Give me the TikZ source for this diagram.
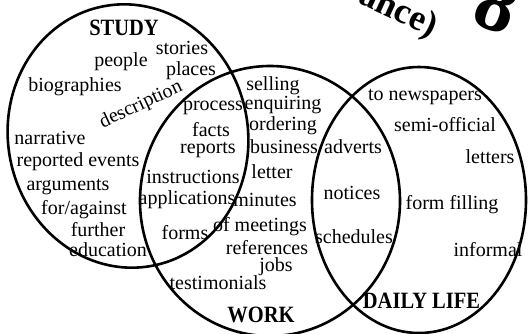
\documentclass[tikz,border=0pt]{standalone}
\usepackage{fontspec}
\setmainfont{Liberation Serif}
\begin{document}
\begin{tikzpicture}[x=1pt, y=1pt, every node/.style={font=\fontsize{20}{22}\selectfont, inner sep=0pt},
  ring/.style={line width=2.6pt}, head/.style={font=\fontsize{20.5}{22}\selectfont\bfseries, yscale=1.14}]
  \useasboundingbox (0,0) rectangle (528,-333);
  \clip (0,0) rectangle (528,-333);
  % the three sets
  \draw[ring, rotate around={10:(128,-136)}] (128,-136) ellipse [x radius=120pt, y radius=132pt];
  \draw[ring] (270,-201) ellipse [x radius=130pt, y radius=135pt];
  \draw[ring] (419,-200) ellipse [x radius=107pt, y radius=133pt];
  % cut-off title at the top
  \node[font=\fontsize{36}{36}\selectfont\bfseries, rotate=-25] (title) at (398,-12) {ance)};
  \node[font=\fontsize{80}{80}\selectfont\bfseries, rotate=-20] (num) at (497,-5) {8};
  % study
  \node[head] (study) at (124,-27.5) {STUDY};
  \node (stories) at (182,-48) {stories};
  \node (people) at (121,-62) {people};
  \node (places) at (191,-71) {places};
  \node (bio) at (75,-87) {biographies};
  \node[rotate=25] (descr) at (141,-105) {description};
  \node (narr) at (50,-138) {narrative};
  \node (reported) at (78,-162) {reported events};
  \node (argu) at (68,-187) {arguments};
  \node (foragainst) at (84,-210) {for/against};
  \node (further) at (98,-230) {further};
  \node (educ) at (108,-250) {education};
  % study and work
  \node (process) at (213,-108) {process};
  \node (facts) at (211,-130) {facts};
  \node (reports) at (208,-150) {reports};
  \node (instr) at (193,-177) {instructions};
  \node (appl) at (187,-200) {applications};
  \node (forms) at (185,-233) {forms};
  % work
  \node (selling) at (273,-86) {selling};
  \node (enq) at (283,-105) {enquiring};
  \node (order) at (283,-126) {ordering};
  \node (busi) at (284,-147) {business};
  \node (letter) at (272,-172) {letter};
  \node (minutes) at (265,-200) {minutes};
  \node (meetings) at (260,-227) {of meetings};
  \node (refs) at (267,-248) {references};
  \node (jobs) at (276,-267) {jobs};
  \node (testim) at (218,-283) {testimonials};
  \node[head] (work) at (261,-314.5) {WORK};
  % work and daily life
  \node (adverts) at (353,-147) {adverts};
  \node (notices) at (352,-193) {notices};
  \node (sched) at (354,-237) {schedules};
  % daily life
  \node (news) at (425,-97) {to newspapers};
  \node (semi) at (445,-125) {semi-official};
  \node (letters) at (490,-157) {letters};
  \node (formfill) at (452,-205) {form filling};
  \node (informal) at (488,-250) {informal};
  \node[head] (daily) at (421.5,-301) {DAILY LIFE};
\end{tikzpicture}
\end{document}
